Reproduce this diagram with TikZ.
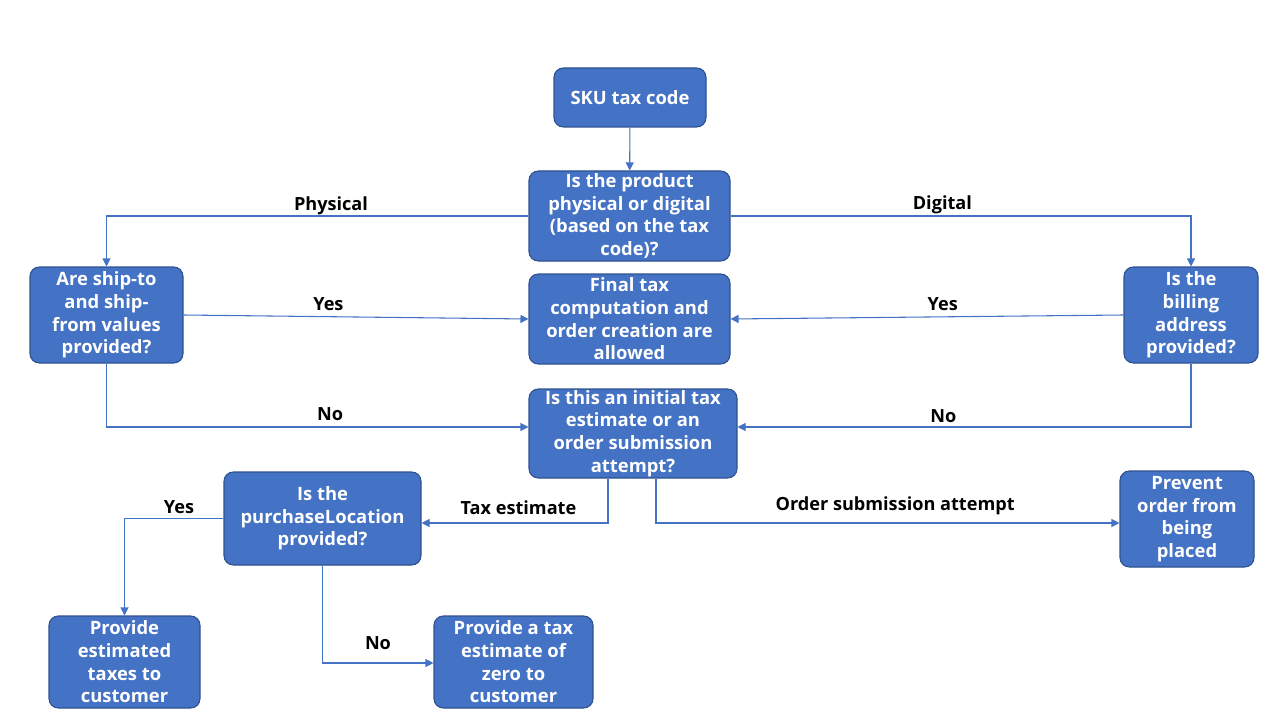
\documentclass[tikz,border=0pt]{standalone}
\usepackage{fontspec}
\setmainfont{Open Sans}
\usetikzlibrary{arrows.meta,calc}
\definecolor{boxfill}{HTML}{4472C4}
\definecolor{boxline}{HTML}{2F528F}
\definecolor{conn}{HTML}{4472C4}
\tikzset{
  box/.style={draw=boxline, line width=0.8pt, fill=boxfill, rounded corners=7pt,
    text=white, font=\bfseries\fontsize{13.8}{17}\selectfont, align=center,
    inner sep=0pt, anchor=center},
  conn/.style={draw=conn, line width=0.8pt, -{Triangle[length=6pt,width=6pt]}},
  lbl/.style={font=\bfseries\fontsize{13.6}{16}\selectfont, text=black, inner sep=0pt}
}
\begin{document}
\begin{tikzpicture}[x=0.75pt,y=-0.75pt]
\useasboundingbox (0,0) rectangle (1280,720);
% nodes
\node[box, minimum width=152*0.75pt, minimum height=59*0.75pt] (sku) at (630,97.5) {SKU tax code};
\node[box, minimum width=201*0.75pt, minimum height=90*0.75pt] (q1) at (629.5,216) {Is the product\\physical or digital\\(based on the tax\\code)?};
\node[box, minimum width=153*0.75pt, minimum height=96*0.75pt] (ship) at (106.5,315) {Are ship-to\\and ship-\\from values\\provided?};
\node[box, minimum width=201*0.75pt, minimum height=90*0.75pt] (final) at (629.5,319) {Final tax\\computation and\\order creation are\\allowed};
\node[box, minimum width=134*0.75pt, minimum height=96*0.75pt] (bill) at (1191,315) {Is the\\billing\\address\\provided?};
\node[box, minimum width=208*0.75pt, minimum height=89*0.75pt] (init) at (633,433.5) {Is this an initial tax\\estimate or an\\order submission\\attempt?};
\node[box, minimum width=197*0.75pt, minimum height=93*0.75pt] (loc) at (322.5,518.5) {Is the\\purchaseLocation\\provided?};
\node[box, minimum width=134*0.75pt, minimum height=96*0.75pt] (prev) at (1187,519) {Prevent\\order from\\being\\placed};
\node[box, minimum width=151*0.75pt, minimum height=92*0.75pt] (est) at (124.5,662) {Provide\\estimated\\taxes to\\customer};
\node[box, minimum width=159*0.75pt, minimum height=92*0.75pt] (zero) at (513.5,662) {Provide a tax\\estimate of\\zero to\\customer};
% helper coordinates
\coordinate (x608) at (608,0);
\coordinate (x656) at (656,0);
\coordinate (y427) at (0,427);
\coordinate (y523) at (0,523);
\coordinate (y663) at (0,663);
% connectors
\draw[conn] (sku) -- (q1);
\draw[conn] (q1.west) -| (ship.north) node[lbl, pos=0.234, above=0.8pt] {Physical};
\draw[conn] (q1.east) -| (bill.north) node[lbl, pos=0.23, above=1.2pt] {Digital};
\draw[conn] (ship.east) -- (final.west) node[lbl, pos=0.42, above=4pt] {Yes};
\draw[conn] (bill.west) -- (final.east) node[lbl, pos=0.46, above=4pt] {Yes};
\draw[conn] (ship.south) |- (init.west |- y427) node[lbl, pos=0.765, above=4pt] {No};
\draw[conn] (bill.south) |- (init.east |- y427) node[lbl, pos=0.773, above=2.5pt] {No};
\draw[conn] (init.south -| x608) |- (loc.east |- y523) node[lbl, pos=0.74, above=5.5pt] {Tax estimate};
\draw[conn] (init.south -| x656) |- (prev.west |- y523) node[lbl, pos=0.758, above=6pt] {Order submission attempt};
\draw[conn] (loc.west) -| (est.north) node[lbl, pos=0.225, above=3pt] {Yes};
\draw[conn] (loc.south) |- (zero.west |- y663) node[lbl, pos=0.75, above=9.5pt] {No};
\end{tikzpicture}
\end{document}
